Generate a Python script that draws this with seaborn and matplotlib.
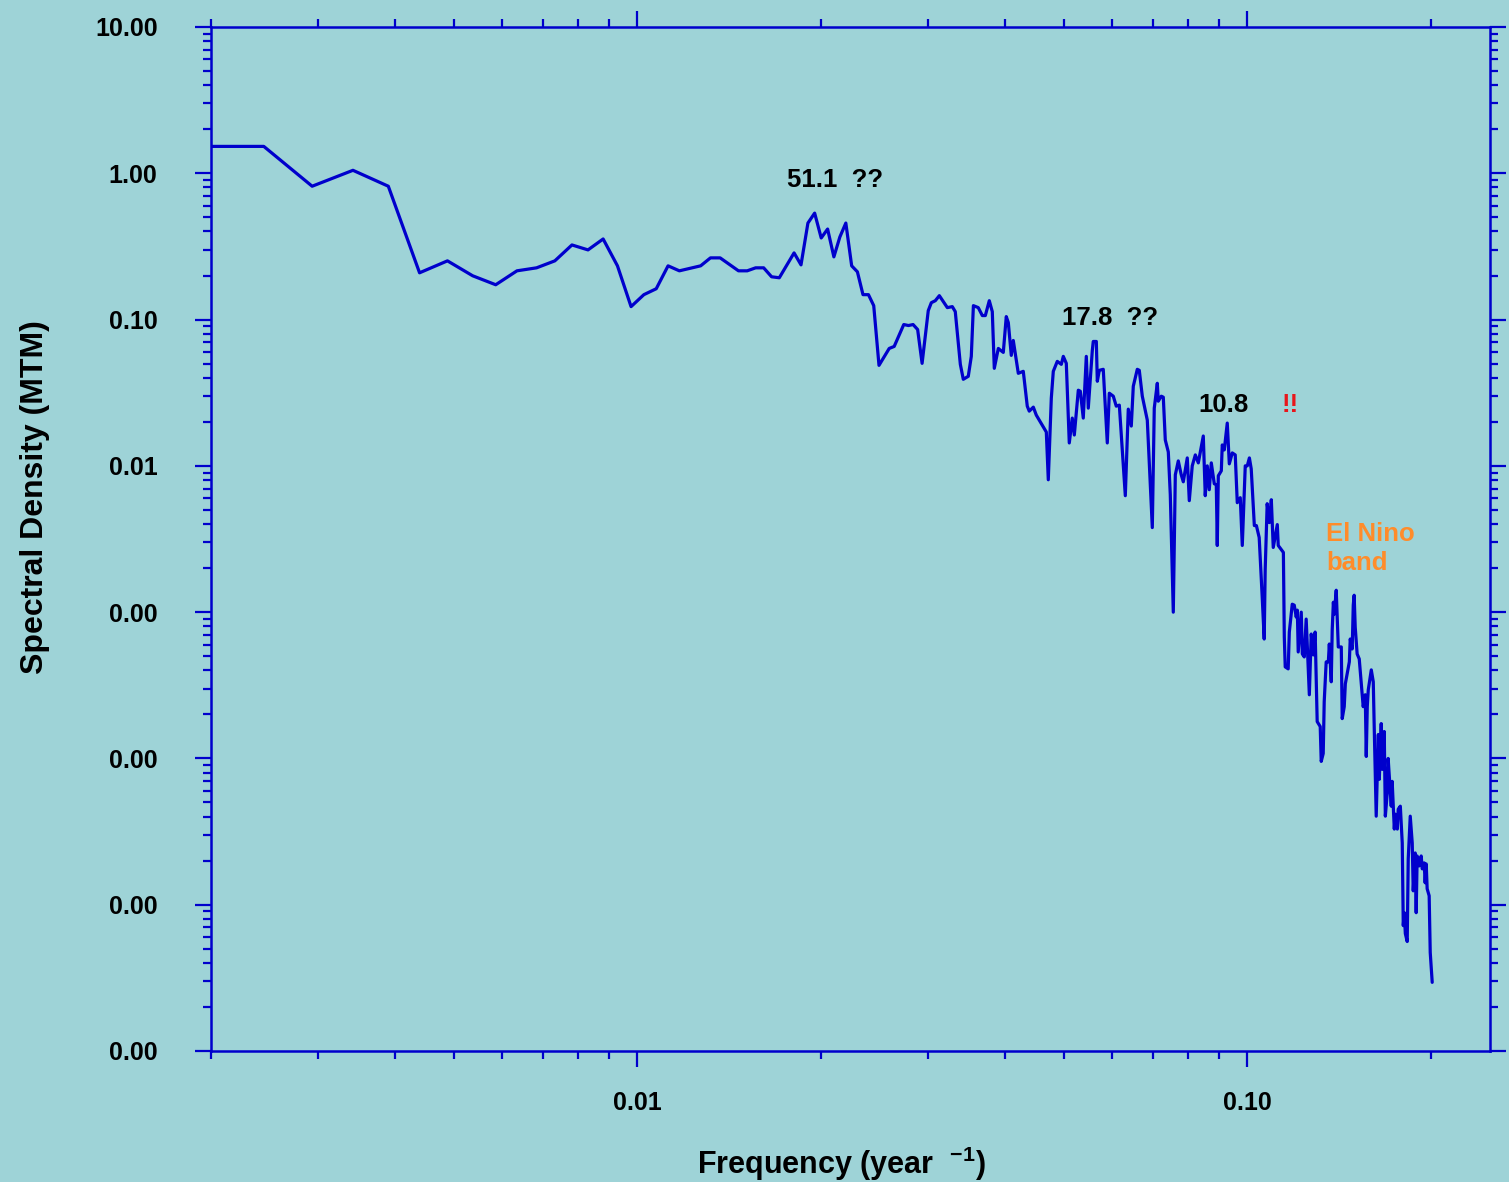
import numpy as np
import pandas as pd
import matplotlib
matplotlib.use("Agg")
import matplotlib.pyplot as plt
import matplotlib.ticker as mticker
import seaborn as sns

# ---------------- data ----------------
frequency = [
    0.001953, 0.002441, 0.002930, 0.003418, 0.003906, 0.004395, 0.004883, 0.005371,
    0.005859, 0.006348, 0.006836, 0.007324, 0.007813, 0.008301, 0.008789, 0.009277,
    0.009766, 0.01025, 0.01074, 0.01123, 0.01172, 0.0127, 0.01318, 0.01367,
    0.01465, 0.01514, 0.01563, 0.01611, 0.0166, 0.01709, 0.01807, 0.01855,
    0.01904, 0.01953, 0.02002, 0.02051, 0.021, 0.02148, 0.02197, 0.02246,
    0.02295, 0.02344, 0.02393, 0.02441, 0.0249, 0.02588, 0.02637, 0.02734,
    0.02783, 0.02832, 0.02881, 0.0293, 0.02999, 0.03034, 0.0308, 0.03127,
    0.03223, 0.03284, 0.03321, 0.03385, 0.03423, 0.03488, 0.03528, 0.03556,
    0.03622, 0.03678, 0.0372, 0.03776, 0.03819, 0.03848, 0.03907, 0.03981,
    0.04026, 0.04057, 0.04103, 0.04134, 0.04213, 0.04293, 0.04358, 0.04391,
    0.04459, 0.04509, 0.04683, 0.04718, 0.04772, 0.04808, 0.04881, 0.04956,
    0.04993, 0.0505, 0.05107, 0.05165, 0.05205, 0.05284, 0.05324, 0.05384,
    0.05446, 0.05487, 0.05571, 0.05591, 0.05656, 0.05677, 0.0572, 0.05806,
    0.05895, 0.0594, 0.0603, 0.06098, 0.06169, 0.0631, 0.06381, 0.06454,
    0.06503, 0.06602, 0.06652, 0.06728, 0.06856, 0.06987, 0.07039, 0.0712,
    0.07146, 0.07228, 0.07283, 0.07338, 0.07422, 0.07478, 0.07563, 0.07621,
    0.07707, 0.07794, 0.07854, 0.07973, 0.08034, 0.08124, 0.08219, 0.08312,
    0.0847, 0.08533, 0.08598, 0.08663, 0.0873, 0.08829, 0.08896, 0.08929,
    0.08964, 0.09066, 0.09099, 0.09168, 0.09272, 0.09344, 0.09449, 0.09556,
    0.09629, 0.09739, 0.09813, 0.09924, 0.1, 0.1008, 0.1015, 0.1027,
    0.1035, 0.1046, 0.1058, 0.1066, 0.107, 0.1078, 0.1087, 0.1095,
    0.1103, 0.112, 0.1124, 0.1146, 0.115, 0.1154, 0.1167, 0.1172,
    0.1185, 0.1194, 0.1203, 0.1208, 0.1212, 0.1226, 0.1231, 0.124,
    0.1249, 0.1254, 0.1264, 0.1273, 0.1283, 0.1292, 0.1302, 0.1317,
    0.1322, 0.1332, 0.1337, 0.1347, 0.1358, 0.1363, 0.1373, 0.1378,
    0.1384, 0.1389, 0.1399, 0.141, 0.1426, 0.1431, 0.1442, 0.1448,
    0.147, 0.1475, 0.1486, 0.1492, 0.1497, 0.1503, 0.1514, 0.1526,
    0.1543, 0.1549, 0.1561, 0.1567, 0.1573, 0.1579, 0.1597, 0.1609,
    0.1615, 0.1627, 0.164, 0.1646, 0.1658, 0.1665, 0.1677, 0.1684,
    0.1696, 0.1702, 0.1715, 0.1722, 0.1728, 0.1742, 0.1748, 0.1762,
    0.1768, 0.1782, 0.1795, 0.1802, 0.1809, 0.1816, 0.1829, 0.1836,
    0.185, 0.1864, 0.1871, 0.1885, 0.1892, 0.1899, 0.1914, 0.1928,
    0.1936, 0.195, 0.1957, 0.1965, 0.1972, 0.1987, 0.1995, 0.201,
]

spectral_density = [
    1.527, 1.527, 0.8157, 1.048, 0.8157, 0.2088, 0.2520, 0.1992,
    0.1730, 0.2154, 0.2258, 0.2520, 0.3237, 0.2994, 0.3556, 0.2330,
    0.1226, 0.1480, 0.1625, 0.2330, 0.2154, 0.2330, 0.2641, 0.2641,
    0.2154, 0.2154, 0.2258, 0.2258, 0.1961, 0.1931, 0.2856, 0.2366,
    0.4569, 0.5343, 0.3612, 0.4159, 0.2683, 0.3669, 0.4569, 0.2330,
    0.2121, 0.1480, 0.1480, 0.1245, 0.04865, 0.06349, 0.06551, 0.09247,
    0.09105, 0.09247, 0.08551, 0.05020, 0.1151, 0.1305, 0.1346, 0.1457,
    0.1207, 0.1226, 0.1133, 0.04942, 0.03906, 0.04094, 0.05603, 0.1245,
    0.1207, 0.1065, 0.1065, 0.1346, 0.1133, 0.04642, 0.06349, 0.05964,
    0.1048, 0.09541, 0.05691, 0.07197, 0.04292, 0.04428, 0.02560, 0.02366,
    0.02520, 0.02223, 0.01703, 0.008032, 0.02902, 0.04428, 0.05179, 0.04942,
    0.05603, 0.05020, 0.01434, 0.02121, 0.01625, 0.03289, 0.03237, 0.02121,
    0.05603, 0.02481, 0.06152, 0.07084, 0.07084, 0.03786, 0.04498, 0.04570,
    0.01434, 0.03137, 0.02994, 0.02560, 0.02600, 0.006251, 0.02442, 0.01871,
    0.03501, 0.04570, 0.04498, 0.02994, 0.02055, 0.003786, 0.02481, 0.03669,
    0.02768, 0.02994, 0.02947, 0.01503, 0.01245, 0.006349, 0.001000, 0.008687,
    0.01081, 0.008687, 0.007781, 0.01133, 0.005781, 0.01000, 0.01188, 0.01048,
    0.01600, 0.006251, 0.01000, 0.006866, 0.01048, 0.007543, 0.007427, 0.002856,
    0.008551, 0.009247, 0.01390, 0.01285, 0.01961, 0.01032, 0.01226, 0.01188,
    0.005602, 0.006057, 0.002856, 0.01000, 0.01000, 0.01133, 0.009541, 0.003906,
    0.003906, 0.003237, 0.001265, 0.0006552, 0.001961, 0.005513, 0.004094, 0.005869,
    0.002768, 0.003968, 0.002856, 0.002560, 0.000676, 0.0004225, 0.0004094, 0.0007309,
    0.001133, 0.001116, 0.0009247, 0.001032, 0.0005343, 0.001000, 0.0005179, 0.0004942,
    0.0008965, 0.0006057, 0.0002725, 0.0007084, 0.0005099, 0.0007309, 0.0001786, 0.0001651,
    0.00009541, 0.0001081, 0.0002442, 0.000457, 0.000457, 0.0006057, 0.0003342, 0.0007543,
    0.001169, 0.0009691, 0.001412, 0.0005781, 0.0005781, 0.0001871, 0.0002258, 0.0003237,
    0.000457, 0.0006552, 0.0005602, 0.001116, 0.001305, 0.0007906, 0.0005179, 0.0004789,
    0.0002768, 0.0002258, 0.0002725, 0.0001032, 0.0002258, 0.0002947, 0.000403, 0.0003342,
    0.00016, 0.0000403, 0.0001457, 0.00007197, 0.000173, 0.00008417, 0.0001527, 0.0000403,
    0.00005781, 0.0001, 0.00006152, 0.00004715, 0.00006972, 0.00003289, 0.00004159, 0.00003289,
    0.00004498, 0.00004715, 0.00002641, 0.000007197, 0.000008822, 0.000006349, 0.000005602, 0.00002055,
    0.0000403, 0.00002641, 0.00001245, 0.00002258, 0.000008822, 0.00002154, 0.00001842, 0.00002154,
    0.00001758, 0.00001931, 0.00001412, 0.00001901, 0.00001285, 0.00001151, 0.000004715, 0.000002947,
]

y_tick_values = [1e-6, 1e-5, 1e-4, 1e-3, 1e-2, 1e-1, 1, 10]
x_tick_values = [0.01, 0.1]

annotations = [
    ("51.1  ??", 0.01762, 0.90, "black"),
    ("17.8  ??", 0.04974, 0.1032, "black"),
    ("10.8", 0.08312, 0.0262, "black"),
    ("!!", 0.1137, 0.0262, "#e8161b"),
]
elnino_text = "El Nino\nband"
elnino_pos = (0.1347, 0.00272)

# ---------------- style ----------------
BG = "#9ed3d7"
BLUE = "#0000cc"

sns.set_theme(style="ticks")
plt.rcParams["font.family"] = ["Liberation Sans", "DejaVu Sans"]
plt.rcParams["mathtext.fontset"] = "custom"
plt.rcParams["mathtext.rm"] = "Liberation Sans"
plt.rcParams["mathtext.bf"] = "Liberation Sans:bold"

fig = plt.figure(figsize=(15.09, 11.82), dpi=100, facecolor=BG)
ax = fig.add_axes([211 / 1509, 1 - 1051 / 1182, 1279 / 1509, 1024 / 1182])
ax.set_facecolor(BG)

df = pd.DataFrame({"freq": frequency, "dens": spectral_density})
sns.lineplot(data=df, x="freq", y="dens", sort=False, estimator=None,
             color=BLUE, linewidth=2.3, ax=ax)

ax.set_xscale("log")
ax.set_yscale("log")
ax.set_xlim(0.002, 0.25)
ax.set_ylim(1e-6, 10)

ax.yaxis.set_major_locator(mticker.FixedLocator(y_tick_values))
ax.yaxis.set_minor_locator(mticker.LogLocator(base=10, subs=np.arange(2, 10), numticks=100))
ax.xaxis.set_major_locator(mticker.FixedLocator(x_tick_values))
ax.xaxis.set_minor_locator(mticker.LogLocator(base=10, subs=np.arange(2, 10), numticks=100))
fmt = mticker.FormatStrFormatter("%.2f")
ax.yaxis.set_major_formatter(fmt)
ax.xaxis.set_major_formatter(fmt)
ax.xaxis.set_minor_formatter(mticker.NullFormatter())
ax.yaxis.set_minor_formatter(mticker.NullFormatter())

for side in ["left", "right", "top", "bottom"]:
    ax.spines[side].set_visible(True)
    ax.spines[side].set_color(BLUE)
    ax.spines[side].set_linewidth(1.8)

ax.tick_params(which="both", direction="out", color=BLUE, width=1.6,
               top=True, right=True, labeltop=False, labelright=False)
ax.tick_params(which="major", length=11.5)
ax.tick_params(which="minor", length=6)
ax.tick_params(axis="y", which="major", pad=27, labelsize=18)
ax.tick_params(axis="x", which="major", pad=17, labelsize=18)
for lab in ax.get_xticklabels() + ax.get_yticklabels():
    lab.set_fontweight("bold")
    lab.set_color("black")

ax.set_xlabel(r"Frequency (year  $^{\mathbf{-1}}$)", fontsize=22, fontweight="bold", color="black")
ax.xaxis.set_label_coords((841 - 211) / 1279, (1051 - 1145) / 1024)

ax.set_ylabel("Spectral Density (MTM)", fontsize=23, fontweight="bold", color="black")
ax.yaxis.set_label_coords((50 - 211) / 1279, (1051 - 497) / 1024)

for txt, fx, fy, col in annotations:
    ax.text(fx, fy, txt, fontsize=18.5, fontweight="bold", color=col,
            ha="left", va="center")
ax.text(elnino_pos[0], elnino_pos[1], elnino_text, fontsize=18.5, fontweight="bold",
        color="#ff8c2a", ha="left", va="center", linespacing=1.3)

fig.savefig("out.png", dpi=100, facecolor=BG)
